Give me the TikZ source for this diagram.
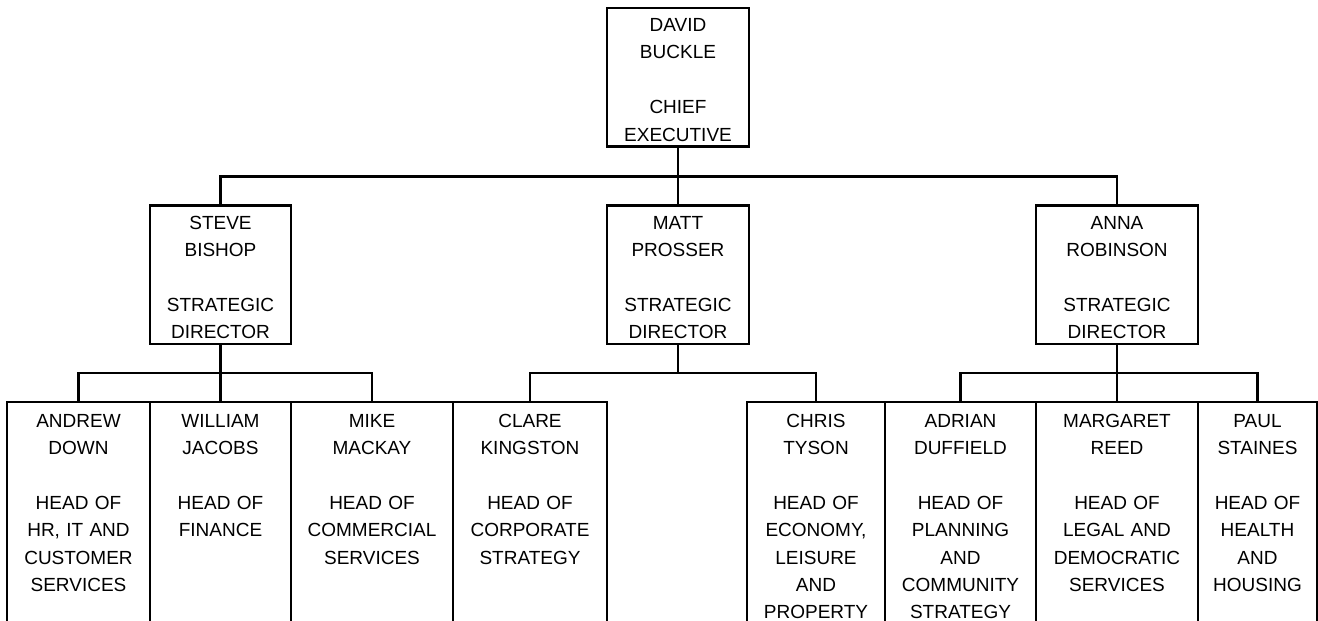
\documentclass[tikz,border=0pt]{standalone}
\usepackage{fontspec}
\setmainfont{Liberation Sans}
\usetikzlibrary{positioning,calc}
\newcommand{\orgfont}{\fontsize{19}{27.4}\selectfont}

\begin{document}
\begin{tikzpicture}[
    x=1pt, y=-1pt,
    post/.style={draw, line width=2.5pt, anchor=north, inner sep=0pt, outer sep=0pt, align=center, font=\orgfont},
    upper/.style={post, text height=23.5pt, text depth=115pt},
    lower/.style={post, text height=25pt, text depth=213pt},
    link/.style={line width=2.5pt}
]
\useasboundingbox (0,0) rectangle (1318,621);
\clip (0,0) rectangle (1318,621);

\node[upper, text width=142pt] (ceo) at (678,8) {DAVID\\BUCKLE\\[27.4pt]CHIEF\\EXECUTIVE};

\node[upper, text width=141pt] (sbishop) at (220.5,205.5) {STEVE\\BISHOP\\[27.4pt]STRATEGIC\\DIRECTOR};
\node[upper, text width=142pt] (mprosser) at (678,205.5) {MATT\\PROSSER\\[27.4pt]STRATEGIC\\DIRECTOR};
\node[upper, text width=162pt] (arobinson) at (1117,205.5) {ANNA\\ROBINSON\\[27.4pt]STRATEGIC\\DIRECTOR};

\node[lower, text width=143pt] (adown) at (78.5,402) {ANDREW\\DOWN\\[27.4pt]HEAD OF\\HR, IT AND\\CUSTOMER\\SERVICES};
\node[lower, text width=141pt] (wjacobs) at (220.5,402) {WILLIAM\\JACOBS\\[27.4pt]HEAD OF\\FINANCE};
\node[lower, text width=162pt] (mmackay) at (372,402) {MIKE\\MACKAY\\[27.4pt]HEAD OF\\COMMERCIAL\\SERVICES};
\node[lower, text width=154pt] (ckingston) at (530,402) {CLARE\\KINGSTON\\[27.4pt]HEAD OF\\CORPORATE\\STRATEGY};
\node[lower, text width=138pt] (ctyson) at (816,402) {CHRIS\\TYSON\\[27.4pt]HEAD OF\\ECONOMY,\\LEISURE\\AND\\PROPERTY};
\node[lower, text width=151pt] (aduffield) at (960.5,402) {ADRIAN\\DUFFIELD\\[27.4pt]HEAD OF\\PLANNING\\AND\\COMMUNITY\\STRATEGY};
\node[lower, text width=162pt] (mreed) at (1117,402) {MARGARET\\REED\\[27.4pt]HEAD OF\\LEGAL AND\\DEMOCRATIC\\SERVICES};
\node[lower, text width=119pt] (pstaines) at (1257.5,402) {PAUL\\STAINES\\[27.4pt]HEAD OF\\HEALTH\\AND\\HOUSING};

\draw[link] (ceo.south) -- (mprosser.north);
\draw[link] (ceo.south) ++(0,30) -| (sbishop.north);
\draw[link] (ceo.south) ++(0,30) -| (arobinson.north);

\draw[link] (sbishop.south) -- (wjacobs.north);
\draw[link] (sbishop.south) ++(0,29) -| (adown.north);
\draw[link] (sbishop.south) ++(0,29) -| (mmackay.north);

\draw[link] (mprosser.south) -- ++(0,29) -| (ckingston.north);
\draw[link] (mprosser.south) ++(0,29) -| (ctyson.north);

\draw[link] (arobinson.south) -- (mreed.north);
\draw[link] (arobinson.south) ++(0,29) -| (aduffield.north);
\draw[link] (arobinson.south) ++(0,29) -| (pstaines.north);
\end{tikzpicture}
\end{document}
